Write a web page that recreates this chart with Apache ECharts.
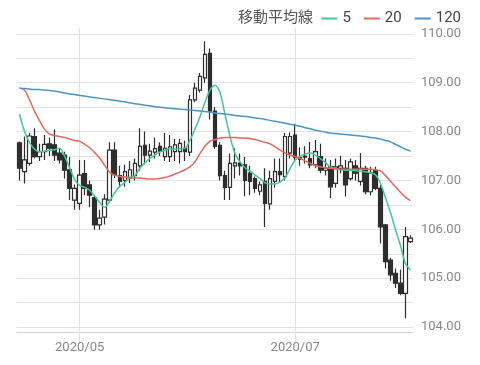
<!DOCTYPE html>
<html>
<head>
<meta charset="utf-8">
<script src="https://cdn.jsdelivr.net/npm/echarts@6/dist/echarts.min.js"></script>
<style>
html,body{margin:0;padding:0;background:#fff;}
#main{width:480px;height:365px;}
</style>
</head>
<body>
<div id="main"></div>
<script>
const dates = [
'2020/04/15','2020/04/16','2020/04/17','2020/04/20','2020/04/21','2020/04/22','2020/04/23','2020/04/24','2020/04/27','2020/04/28','2020/04/29','2020/04/30',
'2020/05/01','2020/05/04','2020/05/05','2020/05/06','2020/05/07','2020/05/08','2020/05/11','2020/05/12','2020/05/13','2020/05/14','2020/05/15','2020/05/18','2020/05/19','2020/05/20','2020/05/21','2020/05/22','2020/05/25','2020/05/26','2020/05/27','2020/05/28','2020/05/29',
'2020/06/01','2020/06/02','2020/06/03','2020/06/04','2020/06/05','2020/06/08','2020/06/09','2020/06/10','2020/06/11','2020/06/12','2020/06/15','2020/06/16','2020/06/17','2020/06/18','2020/06/19','2020/06/22','2020/06/23','2020/06/24','2020/06/25','2020/06/26','2020/06/29','2020/06/30',
'2020/07/01','2020/07/02','2020/07/03','2020/07/06','2020/07/07','2020/07/08','2020/07/09','2020/07/10','2020/07/13','2020/07/14','2020/07/15','2020/07/16','2020/07/17','2020/07/20','2020/07/21','2020/07/22','2020/07/23','2020/07/24','2020/07/27','2020/07/28','2020/07/29','2020/07/30','2020/07/31',
'2020/08/03'
];
// [open, close, low, high]
const ohlc = [
[107.77,107.25,107.00,107.80],[107.18,107.42,106.94,107.90],[107.35,107.91,107.30,107.97],[107.90,107.49,107.45,108.07],
[107.49,107.59,107.40,107.75],[107.59,107.74,107.42,107.93],[107.75,107.66,107.50,107.88],[107.73,107.52,107.40,108.05],
[107.56,107.42,107.35,107.66],[107.52,107.21,107.04,107.59],[107.22,106.84,106.60,107.48],[106.60,106.84,106.40,106.92],
[106.53,107.11,106.40,107.42],[107.14,106.84,106.70,107.42],[106.91,106.70,106.45,107.00],[106.65,106.09,105.99,106.70],
[106.09,106.23,105.99,106.40],[106.25,106.62,106.10,106.72],[106.60,107.62,106.55,107.78],[107.62,107.12,107.05,107.78],
[107.10,106.98,106.85,107.30],[107.00,107.18,106.87,107.32],[107.05,107.22,106.95,107.40],[107.10,107.35,107.00,107.45],
[107.30,107.70,107.20,108.07],[107.72,107.52,107.33,108.00],[107.52,107.60,107.38,107.75],[107.58,107.65,107.45,107.88],
[107.70,107.60,107.50,107.78],[107.49,107.66,107.40,107.97],[107.49,107.69,107.38,107.93],[107.59,107.73,107.40,107.85],
[107.59,107.76,107.35,107.85],[107.66,107.59,107.40,107.82],[107.58,108.65,107.50,108.75],[108.65,108.89,108.60,109.00],
[108.85,109.13,108.80,109.20],[109.10,109.58,109.00,109.85],[109.60,108.42,108.25,109.70],[108.42,107.70,107.65,108.50],
[107.72,107.10,107.00,107.78],[107.10,106.86,106.60,107.20],[106.86,107.35,106.60,107.55],[107.30,107.36,107.04,107.66],
[107.35,107.30,107.10,107.55],[107.32,107.00,106.68,107.48],[107.15,106.98,106.70,107.30],[107.04,106.84,106.75,107.08],
[106.78,106.91,106.70,106.98],[106.98,106.53,106.05,107.25],[106.52,107.04,106.40,107.20],[106.98,107.18,106.85,107.45],
[107.18,107.12,106.95,107.45],[107.08,107.90,107.00,107.97],[107.56,107.90,107.45,107.98],[107.93,107.47,107.40,108.16],
[107.47,107.43,107.30,107.68],[107.48,107.50,107.35,107.70],[107.45,107.32,107.25,107.79],[107.32,107.59,107.25,107.83],
[107.49,107.21,107.15,107.75],[107.21,107.25,107.10,107.45],[107.28,106.87,106.64,107.42],[106.94,107.28,106.85,107.45],
[107.25,107.30,107.15,107.50],[107.25,106.91,106.67,107.42],[107.04,107.38,107.00,107.45],[107.30,107.15,107.00,107.42],
[106.98,107.25,106.90,107.56],[107.25,106.77,106.72,107.30],[106.77,107.15,106.70,107.28],[107.21,106.84,106.80,107.28],
[106.84,106.05,105.71,106.91],[106.09,105.34,105.20,106.11],[105.37,105.07,104.95,105.42],[105.10,104.90,104.80,105.20],
[104.90,104.69,104.65,105.18],[104.69,105.85,104.18,106.05],[105.75,105.82,105.72,105.88]
];
const ma5 = [108.36,108.00,107.78,107.64,107.59,107.60,107.62,107.63,107.66,107.50,107.26,107.02,106.90,106.86,106.80,106.68,106.55,106.45,106.58,106.75,
106.88,106.96,107.06,107.10,107.25,107.36,107.45,107.52,107.58,107.62,107.65,107.64,107.65,107.66,107.82,108.05,108.30,108.60,108.85,108.95,
108.80,108.35,107.90,107.55,107.38,107.26,107.19,107.11,107.04,106.95,106.93,106.93,106.97,107.06,107.25,107.42,107.50,107.54,107.56,107.52,
107.45,107.37,107.28,107.24,107.22,107.21,107.21,107.20,107.19,107.18,107.16,107.12,106.95,106.65,106.35,106.00,105.67,105.30,105.17];
const ma20 = [108.89,108.85,108.65,108.42,108.22,108.05,107.95,107.92,107.90,107.88,107.85,107.82,107.80,107.74,107.67,107.57,107.46,107.31,107.17,107.11,
107.08,107.07,107.06,107.05,107.05,107.04,107.03,107.03,107.04,107.06,107.09,107.13,107.17,107.22,107.28,107.38,107.55,107.70,107.80,107.84,
107.87,107.88,107.88,107.88,107.87,107.87,107.86,107.84,107.81,107.78,107.75,107.69,107.62,107.56,107.52,107.49,107.45,107.40,107.35,107.30,
107.28,107.26,107.25,107.24,107.23,107.23,107.23,107.23,107.23,107.23,107.23,107.22,107.20,107.10,106.99,106.87,106.76,106.66,106.59];
const ma120 = [108.89,108.88,108.87,108.86,108.86,108.85,108.84,108.83,108.81,108.79,108.77,108.76,108.74,108.73,108.71,108.70,108.68,108.67,108.65,108.64,
108.62,108.61,108.59,108.57,108.56,108.54,108.53,108.51,108.50,108.49,108.48,108.47,108.46,108.45,108.44,108.43,108.42,108.41,108.40,108.38,
108.37,108.36,108.35,108.33,108.32,108.31,108.30,108.28,108.27,108.25,108.23,108.21,108.19,108.17,108.15,108.13,108.11,108.08,108.06,108.03,
108.01,107.99,107.97,107.96,107.95,107.94,107.93,107.92,107.91,107.90,107.88,107.87,107.85,107.82,107.79,107.74,107.69,107.64,107.60];
const maNames = ['5','20','120'];
const maColors = ['#3fc99b','#e9665c','#4a96c2'];
const monthLabels = ['2020/05/01','2020/07/01'];
const legendTitle = '移動平均線';

const chart = echarts.init(document.getElementById('main'));
const showIdx = (idx, val) => monthLabels.indexOf(val) >= 0;
chart.setOption({
  animation: false,
  backgroundColor: '#fff',
  title: {
    text: legendTitle, left: 233, top: 4,
    textStyle: {fontSize: 15, fontWeight: 'normal', color: '#555', fontFamily: 'Noto Sans CJK JP'}
  },
  legend: {
    data: maNames, right: 14, top: 6, itemWidth: 16, itemHeight: 2, itemGap: 13, icon: 'rect',
    textStyle: {fontSize: 15, color: '#444', fontFamily: 'Roboto'}
  },
  grid: {left: 17, right: 67, top: 28, bottom: 33},
  xAxis: {
    type: 'category', data: dates, boundaryGap: true,
    axisLine: {lineStyle: {color: '#cbd2f2', width: 1}},
    axisTick: {show: true, interval: showIdx, alignWithLabel: true, length: 11, lineStyle: {color: '#e2e2e2'}},
    axisLabel: {interval: showIdx, formatter: v => v.slice(0, 7), color: '#888', fontSize: 13, margin: 9, fontFamily: 'Roboto'},
    splitLine: {show: true, interval: showIdx, alignWithLabel: true, lineStyle: {color: '#e2e2e2'}}
  },
  yAxis: {
    type: 'value', position: 'right', scale: true, min: 103.9, max: 110.12, splitNumber: 12,
    axisLine: {show: false}, axisTick: {show: false},
    axisLabel: {
      color: '#888', fontSize: 13, margin: 8, fontFamily: 'Roboto', showMinLabel: false, showMaxLabel: false,
      formatter: v => Math.abs(v - Math.round(v)) < 1e-6 ? v.toFixed(2) : ''
    },
    splitLine: {show: true, showMinLine: false, showMaxLine: false, lineStyle: {color: '#e4e4e4'}}
  },
  series: [
    {
      type: 'candlestick', name: 'price', data: ohlc, barWidth: 4,
      itemStyle: {color: '#ffffff', color0: '#2e2e2e', borderColor: '#2e2e2e', borderColor0: '#2e2e2e', borderWidth: 1.2}
    },
    {type: 'line', name: maNames[0], data: ma5, symbol: 'none', smooth: 0.3, lineStyle: {color: maColors[0], width: 1.5}, itemStyle: {color: maColors[0]}},
    {type: 'line', name: maNames[1], data: ma20, symbol: 'none', smooth: 0.3, lineStyle: {color: maColors[1], width: 1.5}, itemStyle: {color: maColors[1]}},
    {type: 'line', name: maNames[2], data: ma120, symbol: 'none', smooth: 0.3, lineStyle: {color: maColors[2], width: 1.5}, itemStyle: {color: maColors[2]}}
  ]
});
</script>
</body>
</html>
